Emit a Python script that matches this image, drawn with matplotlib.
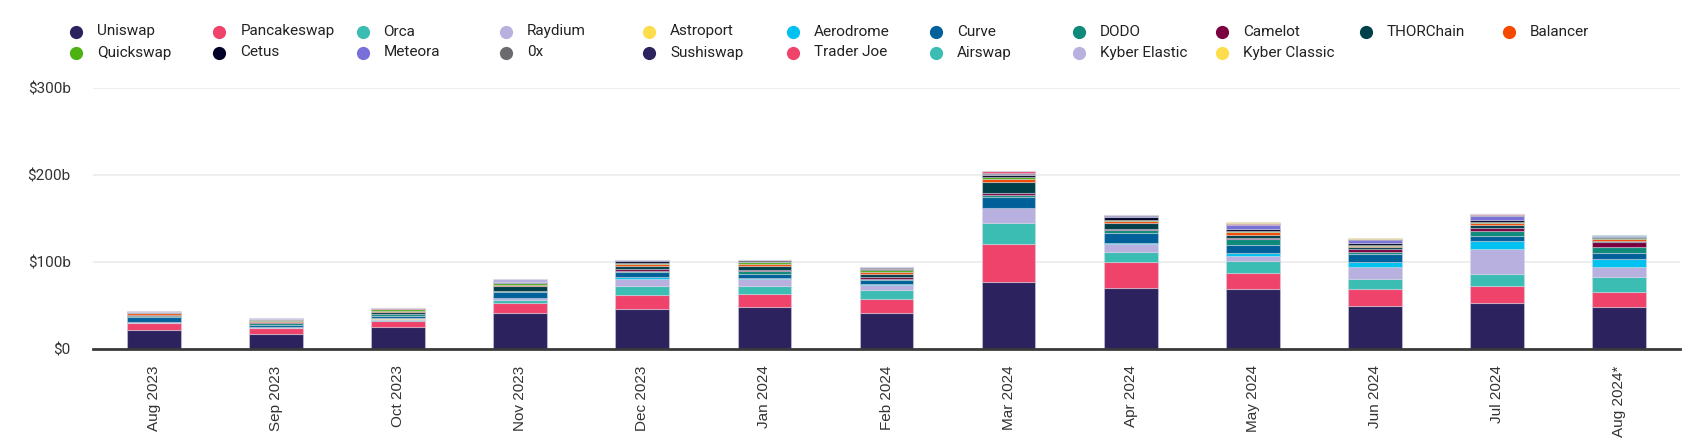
import matplotlib
matplotlib.use("Agg")
import matplotlib.pyplot as plt
from matplotlib.lines import Line2D
import numpy as np

months = ["Aug 2023", "Sep 2023", "Oct 2023", "Nov 2023", "Dec 2023", "Jan 2024",
          "Feb 2024", "Mar 2024", "Apr 2024", "May 2024", "Jun 2024", "Jul 2024", "Aug 2024*"]

# values in $ billions, stacked bottom -> top in legend order
uniswap       = [21.5, 16.5, 25.3, 40.7, 46.1, 47.6, 40.7, 77.2, 70.3, 68.4, 49.5, 53.0, 47.6]
pancakeswap   = [8.0, 6.9, 6.9, 12.3, 15.4, 15.7, 16.1, 43.0, 29.2, 19.2, 18.8, 18.8, 17.3]
orca          = [0.5, 1.0, 0.8, 3.1, 10.4, 8.4, 10.4, 24.2, 11.9, 13.4, 12.3, 13.8, 17.3]
raydium       = [0.2, 0.2, 1.7, 1.9, 8.8, 8.8, 6.1, 17.3, 9.2, 5.8, 13.4, 29.6, 12.3]
astroport     = [0.1, 0.1, 0.1, 0.1, 0.1, 0.1, 0.1, 0.2, 0.2, 0.2, 0.2, 0.2, 0.2]
aerodrome     = [0.0, 0.0, 0.2, 0.5, 1.5, 0.8, 1.2, 0.5, 1.5, 3.5, 5.8, 8.8, 8.8]
curve         = [6.1, 3.1, 3.1, 6.5, 6.5, 4.2, 4.6, 12.3, 10.8, 8.8, 8.8, 5.4, 6.5]
dodo          = [1.5, 1.5, 1.9, 1.2, 1.2, 3.8, 1.2, 2.7, 3.1, 6.9, 3.1, 6.5, 6.9]
camelot       = [0.2, 1.2, 0.4, 0.5, 1.5, 1.5, 2.3, 2.3, 1.9, 0.8, 2.7, 3.5, 5.8]
thorchain     = [0.2, 0.3, 2.3, 5.0, 4.2, 4.6, 3.1, 12.3, 6.5, 4.2, 2.3, 2.7, 1.9]
balancer      = [2.3, 1.2, 0.4, 1.9, 2.3, 2.3, 2.7, 3.0, 2.7, 3.8, 1.9, 2.3, 1.5]
quickswap     = [0.2, 1.5, 2.3, 1.5, 1.2, 1.9, 1.9, 3.0, 1.5, 0.5, 1.2, 1.5, 1.2]
cetus         = [0.1, 0.1, 0.1, 0.3, 1.5, 0.5, 1.5, 2.0, 3.5, 1.9, 1.5, 2.3, 1.5]
meteora       = [0.0, 0.0, 0.0, 0.0, 0.0, 0.0, 0.0, 0.3, 0.3, 5.4, 3.8, 5.0, 0.5]
zerox         = [1.2, 0.3, 0.3, 0.5, 0.8, 1.5, 1.2, 0.5, 0.5, 0.3, 0.5, 0.5, 0.5]
sushiswap     = [0.3, 0.5, 0.3, 0.5, 0.5, 0.5, 0.5, 2.0, 0.8, 0.3, 0.8, 0.5, 0.3]
traderjoe     = [0.2, 0.3, 0.3, 0.5, 0.3, 0.3, 0.3, 2.0, 0.3, 1.9, 0.3, 0.3, 0.3]
airswap       = [0.05] * 13
kyber_elastic = [0.3, 0.3, 0.3, 3.1, 0.0, 0.0, 0.0, 0.0, 0.0, 0.0, 0.0, 0.0, 0.0]
kyber_classic = [0.05] * 13

names = ["Uniswap", "Pancakeswap", "Orca", "Raydium", "Astroport", "Aerodrome", "Curve",
         "DODO", "Camelot", "THORChain", "Balancer", "Quickswap", "Cetus", "Meteora", "0x",
         "Sushiswap", "Trader Joe", "Airswap", "Kyber Elastic", "Kyber Classic"]
series = [uniswap, pancakeswap, orca, raydium, astroport, aerodrome, curve, dodo, camelot,
          thorchain, balancer, quickswap, cetus, meteora, zerox, sushiswap, traderjoe,
          airswap, kyber_elastic, kyber_classic]
colors = ["#2b225e", "#f0436b", "#3bbdb3", "#b8b1e0", "#fddd4c", "#00c1ef", "#00609a",
          "#0d8a79", "#7a003f", "#00404a", "#f54900", "#4cb212", "#020228", "#786fd8",
          "#6b6b6f", "#2b225e", "#f0436b", "#3bbdb3", "#b8b1e0", "#fddd4c"]

y_ticks = [0, 100, 200, 300]
y_labels = ["$0", "$100b", "$200b", "$300b"]

W, H = 1692, 447
fig = plt.figure(figsize=(W / 100, H / 100), dpi=100)
ax = fig.add_axes([93 / W, 1 - 348.7 / H, (1680 - 93) / W, (348.7 - 88.3) / H])

x = np.arange(len(months))
bottom = np.zeros(len(months))
for name, vals, c in zip(names, series, colors):
    v = np.array(vals, dtype=float)
    ax.bar(x, v, width=0.44, bottom=bottom, color=c,
           edgecolor=(0.85, 0.85, 0.9, 0.45), linewidth=0.8, zorder=3)
    bottom += v

ax.set_xlim(-0.5, len(months) - 0.5)
ax.set_ylim(0, 300)
ax.set_yticks(y_ticks)
ax.set_yticklabels(y_labels, fontfamily="Roboto", fontsize=11, color="#333333")
ax.set_xticks(x)
ax.set_xticklabels(months, rotation=90, fontfamily="Liberation Sans", fontsize=11,
                   color="#333333", va="top", ha="center")
ax.tick_params(axis="y", length=0, pad=16)
ax.tick_params(axis="x", length=0, pad=12)
ax.grid(axis="y", color="#ebebeb", linewidth=1.2, zorder=0)
for s in ["left", "right", "top"]:
    ax.spines[s].set_visible(False)
ax.spines["bottom"].set_color("#3a3a3a")
ax.spines["bottom"].set_linewidth(2)
ax.spines["bottom"].set_zorder(4)

# legend: 11 uniform columns, 2 rows
ncol = 11
col_x0, col_step = 76, 143.3
row_y = [31.5, 52.5]
for i, (name, c) in enumerate(zip(names, colors)):
    r, k = divmod(i, ncol)
    xm = (col_x0 + k * col_step) / W
    ym = 1 - row_y[r] / H
    fig.add_artist(Line2D([xm], [ym], marker="o", markersize=9.5, color=c,
                          markeredgewidth=0, linestyle="none", transform=fig.transFigure))
    fig.text(xm + 21 / W, ym, name, fontfamily="Roboto", fontsize=11, color="#222222",
             va="center", ha="left")

fig.savefig("out.png", dpi=100, facecolor="white")
